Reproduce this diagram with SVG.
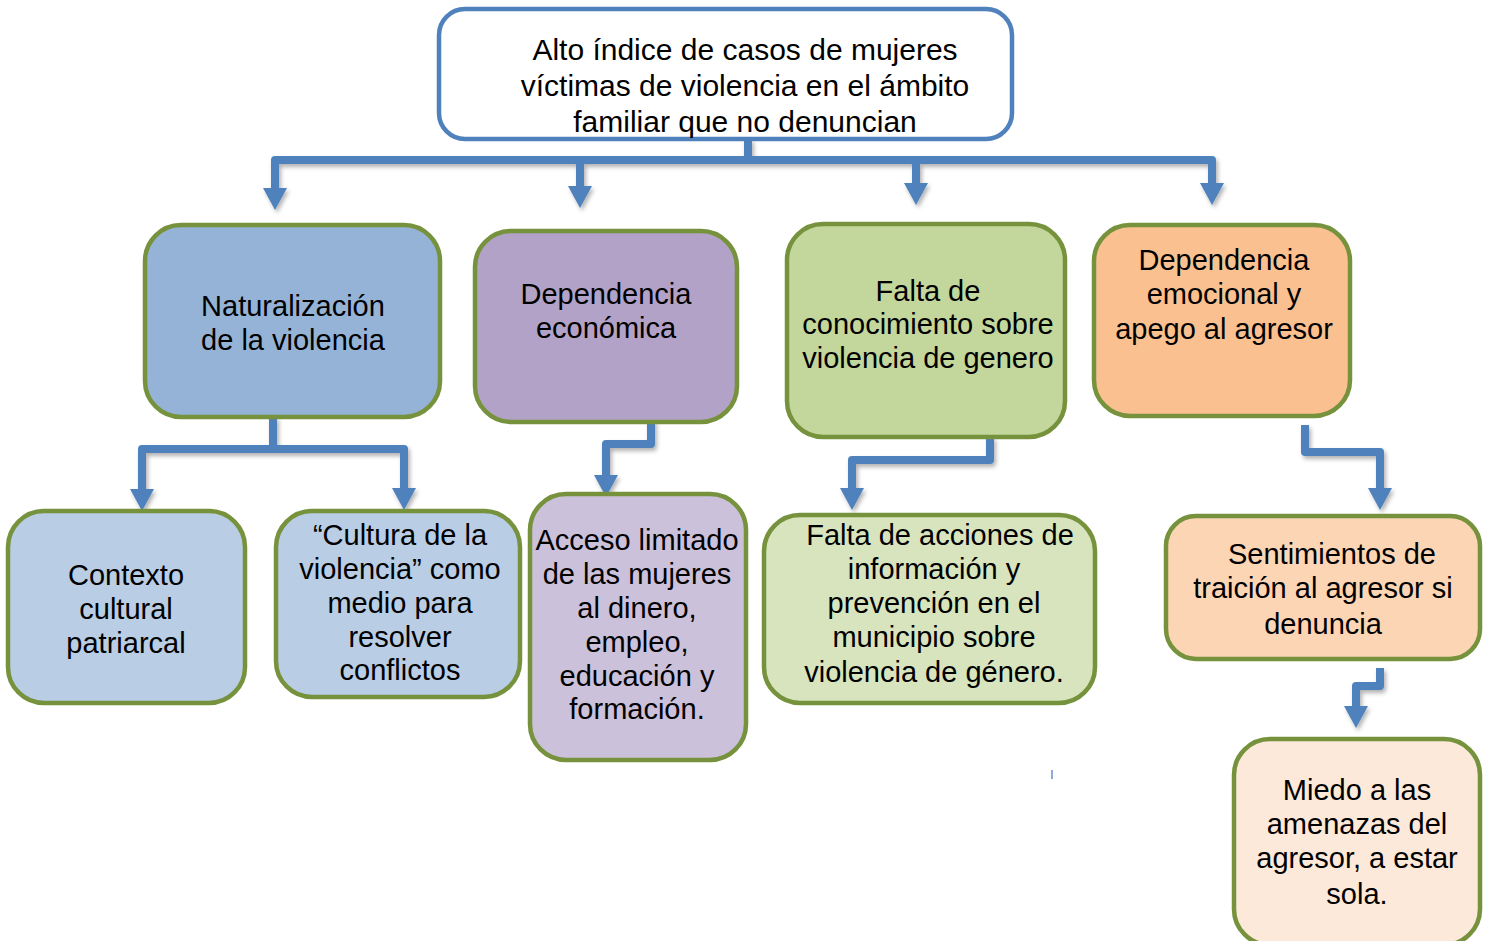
<svg xmlns="http://www.w3.org/2000/svg" width="1490" height="941" viewBox="0 0 1490 941">
<style>
.box{stroke:#76923c;stroke-width:4.5}
.top{fill:#ffffff;stroke:#4f81bd;stroke-width:4.5}
text{font-family:"Liberation Sans",Arial,sans-serif;font-size:29px;fill:#000;text-anchor:middle}
.t30{font-size:30px}
.con{fill:none;stroke:#4f81bd;stroke-width:8;stroke-linejoin:round}
</style>
<defs>
<marker id="ah" markerUnits="userSpaceOnUse" markerWidth="24" markerHeight="26" refX="0" refY="12" orient="auto" overflow="visible">
<path d="M0,0 L22,12 L0,24 Z" fill="#4f81bd"/>
</marker>
<filter id="sh" x="-20%" y="-20%" width="140%" height="140%">
<feDropShadow dx="2" dy="3" stdDeviation="2" flood-color="#000" flood-opacity="0.3"/>
</filter>
</defs>
<rect width="1490" height="941" fill="#ffffff"/>

<g id="connectors" filter="url(#sh)">
<polyline class="con" points="748,139 748,160"/>
<polyline class="con" points="748,160 275,160 275,188" marker-end="url(#ah)"/>
<polyline class="con" points="580,160 580,186" marker-end="url(#ah)"/>
<polyline class="con" points="748,160 916,160 916,183" marker-end="url(#ah)"/>
<polyline class="con" points="916,160 1212,160 1212,183" marker-end="url(#ah)"/>
<polyline class="con" points="273,417 273,449"/>
<polyline class="con" points="273,449 142,449 142,489" marker-end="url(#ah)"/>
<polyline class="con" points="273,449 404,449 404,488" marker-end="url(#ah)"/>
<polyline class="con" points="651,420 651,444 606,444 606,475" marker-end="url(#ah)"/>
<polyline class="con" points="990,437 990,460 852,460 852,488" marker-end="url(#ah)"/>
<polyline class="con" points="1305,425 1305,452 1380,452 1380,488" marker-end="url(#ah)"/>
<polyline class="con" points="1380,668 1380,686 1356,686 1356,706" marker-end="url(#ah)"/>
</g>

<g id="n0">
<rect class="top" x="439" y="9" width="573" height="130" rx="26"/>
<text class="t30" x="745" y="60">Alto índice de casos de mujeres</text>
<text class="t30" x="745" y="96">víctimas de violencia en el ámbito</text>
<text class="t30" x="745" y="132">familiar que no denuncian</text>
</g>

<g id="n1">
<rect class="box" x="145" y="225" width="295" height="192" rx="36" fill="#95b3d7"/>
<text x="293" y="316">Naturalización</text>
<text x="293" y="350">de la violencia</text>
</g>

<g id="n2">
<rect class="box" x="475" y="231" width="262" height="191" rx="36" fill="#b3a2c7"/>
<text x="606" y="304">Dependencia</text>
<text x="606" y="338">económica</text>
</g>

<g id="n3">
<rect class="box" x="787" y="224" width="278" height="213" rx="36" fill="#c3d69b"/>
<text x="928" y="301">Falta de</text>
<text x="928" y="334">conocimiento sobre</text>
<text x="928" y="368">violencia de genero</text>
</g>

<g id="n4">
<rect class="box" x="1094" y="225" width="256" height="191" rx="36" fill="#fac090"/>
<text x="1224" y="270">Dependencia</text>
<text x="1224" y="304">emocional y</text>
<text x="1224" y="339">apego al agresor</text>
</g>

<g id="n5">
<rect class="box" x="8" y="511" width="237" height="192" rx="36" fill="#b9cde5"/>
<text x="126" y="585">Contexto</text>
<text x="126" y="619">cultural</text>
<text x="126" y="653">patriarcal</text>
</g>

<g id="n6">
<rect class="box" x="276" y="511" width="244" height="186" rx="36" fill="#b9cde5"/>
<text x="400" y="545">“Cultura de la</text>
<text x="400" y="579">violencia” como</text>
<text x="400" y="613">medio para</text>
<text x="400" y="647">resolver</text>
<text x="400" y="680">conflictos</text>
</g>

<g id="n7">
<rect class="box" x="530" y="494" width="216" height="266" rx="36" fill="#ccc1da"/>
<text x="637" y="550">Acceso limitado</text>
<text x="637" y="584">de las mujeres</text>
<text x="637" y="618">al dinero,</text>
<text x="637" y="652">empleo,</text>
<text x="637" y="686">educación y</text>
<text x="637" y="719">formación.</text>
</g>

<g id="n8">
<rect class="box" x="764" y="515" width="331" height="188" rx="36" fill="#d7e4bd"/>
<text x="940" y="545">Falta de acciones de</text>
<text x="934" y="579">información y</text>
<text x="934" y="613">prevención en el</text>
<text x="934" y="647">municipio sobre</text>
<text x="934" y="682">violencia de género.</text>
</g>

<g id="n9">
<rect class="box" x="1166" y="516" width="314" height="143" rx="30" fill="#fcd5b5"/>
<text x="1332" y="564">Sentimientos de</text>
<text x="1323" y="598">traición al agresor si</text>
<text x="1323" y="634">denuncia</text>
</g>

<g id="n10">
<rect class="box" x="1234" y="739" width="246" height="206" rx="36" fill="#fde9d9"/>
<text x="1357" y="800">Miedo a las</text>
<text x="1357" y="834">amenazas del</text>
<text x="1357" y="868">agresor, a estar</text>
<text x="1357" y="904">sola.</text>
</g>

<rect x="1051" y="770" width="2" height="9" fill="#8eaadb"/>
</svg>
